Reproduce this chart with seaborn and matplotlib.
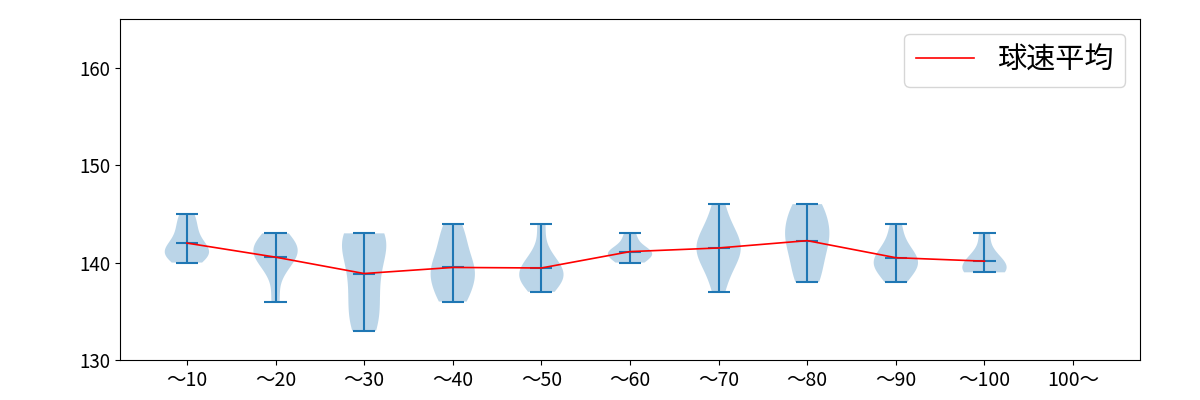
import numpy as np
import matplotlib
matplotlib.use("Agg")
import matplotlib.pyplot as plt
import seaborn as sns
import pandas as pd

labels = ["～10", "～20", "～30", "～40", "～50", "～60", "～70", "～80", "～90", "～100", "100～"]

g10 = [140, 141, 141, 141, 141, 142, 143, 144, 145]
g20 = [136, 139, 140, 141, 141, 141, 142, 142, 143]
g30 = [133, 133, 134, 135, 136, 137, 138, 139, 140, 141, 142, 142, 143, 143, 143, 143]
g40 = [136, 136, 137, 138, 139, 139, 139, 140, 141, 142, 143, 144]
g50 = [137, 138, 138, 139, 139, 139, 140, 141, 144]
g60 = [140, 140, 141, 141, 141, 141, 142, 143]
g70 = [137, 139, 140, 141, 141, 142, 142, 143, 144, 146]
g80 = [138, 138, 140, 140, 142, 142, 143, 143, 144, 145, 146, 146]
g90 = [138, 139, 140, 140, 140, 141, 142, 144]
g100 = [139, 139, 139, 140, 140, 141, 143]

groups = [g10, g20, g30, g40, g50, g60, g70, g80, g90, g100]

plt.rcParams['font.family'] = ['Noto Sans CJK JP', 'DejaVu Sans']

fig = plt.figure(figsize=(12, 4), dpi=100)
ax = fig.add_axes([0.1, 0.1, 0.85, 0.8525])

positions = list(range(1, len(groups) + 1))
ax.violinplot(groups, positions=positions, showmeans=True, showextrema=True)

means = pd.DataFrame({"x": positions, "mean": [np.mean(g) for g in groups]})
sns.lineplot(data=means, x="x", y="mean", color="red", linewidth=1.2, ax=ax, label="球速平均")

ax.set_xticks(range(1, len(labels) + 1))
ax.set_xticklabels(labels, fontsize=14)
ax.set_xlim(0.245, 11.755)
ax.set_ylim(130, 165)
ax.set_yticks([130, 140, 150, 160])
ax.tick_params(axis='y', labelsize=13.5)
ax.set_xlabel("")
ax.set_ylabel("")
ax.legend(loc="upper right", fontsize=21)

fig.savefig("out.png", dpi=100)
